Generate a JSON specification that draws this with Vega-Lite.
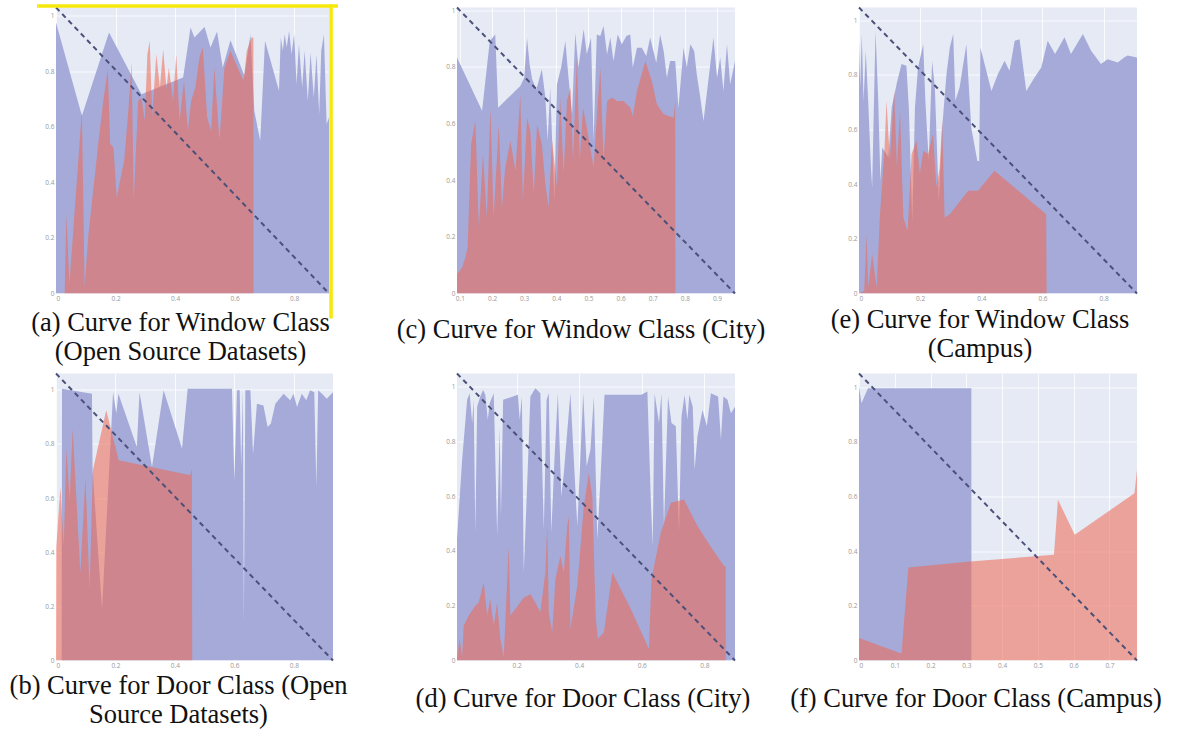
{
"$schema": "https://vega.github.io/schema/vega-lite/v6.json",
"background": "white",
"padding": {"left": 9, "top": 2.5, "right": 0, "bottom": 0},
"bounds": "flush",
"columns": 3,
"spacing": {"row": 80, "column": 124},
"config": {
  "view": {"fill": "#E5EAF5", "stroke": null},
  "axis": {"domain": false, "ticks": false, "tickSize": 0, "grid": true, "gridColor": "#FFFFFF", "gridWidth": 1, "gridOpacity": 0.8, "labelFontSize": 6.5, "labelColor": "#999999", "labelFont": "Open Sans", "title": null, "labelPadding": 2, "labelOverlap": false},
  "title": {"font": "Liberation Serif", "fontSize": 26.5, "fontWeight": "normal", "color": "#111111", "orient": "bottom", "anchor": "middle", "frame": "group", "lineHeight": 29, "baseline": "top"}
},
"datasets": {
  "a_blue": [{"x":0,"y":0.976},{"x":0.087,"y":0.64},{"x":0.178,"y":0.94},{"x":0.287,"y":0.718},{"x":0.427,"y":0.778},{"x":0.452,"y":0.958},{"x":0.465,"y":0.922},{"x":0.499,"y":0.96},{"x":0.519,"y":0.886},{"x":0.541,"y":0.944},{"x":0.56,"y":0.814},{"x":0.586,"y":0.912},{"x":0.633,"y":0.784},{"x":0.653,"y":0.934},{"x":0.666,"y":0.658},{"x":0.686,"y":0.55},{"x":0.702,"y":0.91},{"x":0.749,"y":0.73},{"x":0.755,"y":0.922},{"x":0.762,"y":0.874},{"x":0.768,"y":0.934},{"x":0.775,"y":0.886},{"x":0.783,"y":0.946},{"x":0.791,"y":0.862},{"x":0.8,"y":0.934},{"x":0.808,"y":0.754},{"x":0.816,"y":0.898},{"x":0.827,"y":0.742},{"x":0.835,"y":0.874},{"x":0.846,"y":0.694},{"x":0.855,"y":0.868},{"x":0.866,"y":0.706},{"x":0.875,"y":0.862},{"x":0.884,"y":0.646},{"x":0.891,"y":0.874},{"x":0.9,"y":0.934},{"x":0.909,"y":0.61},{"x":0.917,"y":0.634}],
  "a_red": [{"x":0.029,"y":0},{"x":0.035,"y":0.286},{"x":0.045,"y":0.034},{"x":0.087,"y":0.658},{"x":0.096,"y":0.022},{"x":0.109,"y":0.214},{"x":0.126,"y":0.382},{"x":0.143,"y":0.55},{"x":0.159,"y":0.694},{"x":0.174,"y":0.808},{"x":0.182,"y":0.538},{"x":0.193,"y":0.526},{"x":0.204,"y":0.346},{"x":0.215,"y":0.406},{"x":0.229,"y":0.478},{"x":0.243,"y":0.658},{"x":0.254,"y":0.832},{"x":0.261,"y":0.334},{"x":0.276,"y":0.694},{"x":0.287,"y":0.706},{"x":0.298,"y":0.622},{"x":0.307,"y":0.862},{"x":0.315,"y":0.91},{"x":0.323,"y":0.634},{"x":0.337,"y":0.862},{"x":0.349,"y":0.742},{"x":0.36,"y":0.88},{"x":0.371,"y":0.736},{"x":0.379,"y":0.814},{"x":0.393,"y":0.694},{"x":0.404,"y":0.862},{"x":0.415,"y":0.622},{"x":0.43,"y":0.766},{"x":0.443,"y":0.586},{"x":0.454,"y":0.694},{"x":0.468,"y":0.742},{"x":0.482,"y":0.85},{"x":0.493,"y":0.886},{"x":0.508,"y":0.634},{"x":0.521,"y":0.586},{"x":0.532,"y":0.814},{"x":0.549,"y":0.55},{"x":0.566,"y":0.814},{"x":0.586,"y":0.874},{"x":0.61,"y":0.814},{"x":0.63,"y":0.766},{"x":0.641,"y":0.874},{"x":0.657,"y":0.922},{"x":0.663,"y":0.922},{"x":0.6636,"y":0}],
  "a_frame": [{"x":-0.0638,"y":1.0354,"x2":0.947,"y2":1.0354},{"x":0.924,"y":1.041,"x2":0.924,"y2":-0.09}],
  "c_blue": [{"x":0.091,"y":0.833},{"x":0.169,"y":0.645},{"x":0.193,"y":0.892},{"x":0.21,"y":0.915},{"x":0.219,"y":0.656},{"x":0.288,"y":0.733},{"x":0.3,"y":0.762},{"x":0.309,"y":0.901},{"x":0.317,"y":0.809},{"x":0.325,"y":0.756},{"x":0.338,"y":0.721},{"x":0.355,"y":0.792},{"x":0.366,"y":0.692},{"x":0.373,"y":0.539},{"x":0.381,"y":0.727},{"x":0.394,"y":0.327},{"x":0.402,"y":0.739},{"x":0.415,"y":0.798},{"x":0.428,"y":0.892},{"x":0.438,"y":0.762},{"x":0.449,"y":0.633},{"x":0.459,"y":0.921},{"x":0.469,"y":0.798},{"x":0.485,"y":0.933},{"x":0.495,"y":0.845},{"x":0.508,"y":0.904},{"x":0.516,"y":0.54},{"x":0.526,"y":0.915},{"x":0.537,"y":0.909},{"x":0.547,"y":0.945},{"x":0.558,"y":0.845},{"x":0.568,"y":0.904},{"x":0.578,"y":0.821},{"x":0.591,"y":0.915},{"x":0.604,"y":0.88},{"x":0.618,"y":0.909},{"x":0.63,"y":0.915},{"x":0.638,"y":0.798},{"x":0.651,"y":0.868},{"x":0.666,"y":0.868},{"x":0.68,"y":0.839},{"x":0.692,"y":0.904},{"x":0.711,"y":0.815},{"x":0.723,"y":0.915},{"x":0.734,"y":0.856},{"x":0.744,"y":0.762},{"x":0.754,"y":0.821},{"x":0.77,"y":0.821},{"x":0.78,"y":0.656},{"x":0.796,"y":0.868},{"x":0.806,"y":0.798},{"x":0.817,"y":0.88},{"x":0.829,"y":0.856},{"x":0.837,"y":0.774},{"x":0.848,"y":0.692},{"x":0.858,"y":0.609},{"x":0.868,"y":0.704},{"x":0.879,"y":0.809},{"x":0.889,"y":0.904},{"x":0.9,"y":0.762},{"x":0.91,"y":0.833},{"x":0.92,"y":0.715},{"x":0.931,"y":0.88},{"x":0.941,"y":0.739},{"x":0.956,"y":0.821}],
  "c_red": [{"x":0.091,"y":0.068},{"x":0.107,"y":0.092},{"x":0.117,"y":0.127},{"x":0.124,"y":0.162},{"x":0.135,"y":0.527},{"x":0.148,"y":0.609},{"x":0.159,"y":0.233},{"x":0.172,"y":0.492},{"x":0.184,"y":0.268},{"x":0.195,"y":0.656},{"x":0.205,"y":0.268},{"x":0.221,"y":0.598},{"x":0.231,"y":0.304},{"x":0.241,"y":0.445},{"x":0.257,"y":0.539},{"x":0.273,"y":0.433},{"x":0.288,"y":0.704},{"x":0.296,"y":0.327},{"x":0.309,"y":0.621},{"x":0.319,"y":0.574},{"x":0.33,"y":0.351},{"x":0.34,"y":0.598},{"x":0.355,"y":0.527},{"x":0.366,"y":0.386},{"x":0.376,"y":0.304},{"x":0.387,"y":0.539},{"x":0.402,"y":0.374},{"x":0.412,"y":0.692},{"x":0.423,"y":0.421},{"x":0.433,"y":0.68},{"x":0.444,"y":0.727},{"x":0.452,"y":0.468},{"x":0.464,"y":0.833},{"x":0.473,"y":0.468},{"x":0.483,"y":0.656},{"x":0.495,"y":0.586},{"x":0.516,"y":0.445},{"x":0.526,"y":0.621},{"x":0.537,"y":0.798},{"x":0.547,"y":0.468},{"x":0.558,"y":0.68},{"x":0.573,"y":0.692},{"x":0.589,"y":0.68},{"x":0.609,"y":0.68},{"x":0.63,"y":0.656},{"x":0.638,"y":0.627},{"x":0.651,"y":0.715},{"x":0.677,"y":0.821},{"x":0.697,"y":0.751},{"x":0.713,"y":0.668},{"x":0.734,"y":0.633},{"x":0.765,"y":0.621},{"x":0.77,"y":0.68},{"x":0.7705,"y":0}],
  "e_blue": [{"x":0,"y":0.924},{"x":0.004,"y":0.754},{"x":0.009,"y":0.949},{"x":0.015,"y":0.705},{"x":0.022,"y":0.888},{"x":0.03,"y":0.705},{"x":0.039,"y":0.461},{"x":0.043,"y":0.388},{"x":0.054,"y":0.961},{"x":0.063,"y":0.705},{"x":0.07,"y":0.412},{"x":0.076,"y":0.534},{"x":0.096,"y":0.498},{"x":0.107,"y":0.68},{"x":0.123,"y":0.766},{"x":0.139,"y":0.839},{"x":0.155,"y":0.833},{"x":0.163,"y":0.68},{"x":0.174,"y":0.266},{"x":0.183,"y":0.68},{"x":0.193,"y":0.827},{"x":0.21,"y":0.912},{"x":0.217,"y":0.705},{"x":0.228,"y":0.485},{"x":0.239,"y":0.851},{"x":0.248,"y":0.754},{"x":0.261,"y":0.339},{"x":0.272,"y":0.607},{"x":0.286,"y":0.802},{"x":0.297,"y":0.9},{"x":0.308,"y":0.949},{"x":0.315,"y":0.705},{"x":0.329,"y":0.754},{"x":0.351,"y":0.912},{"x":0.367,"y":0.607},{"x":0.387,"y":0.485},{"x":0.393,"y":0.485},{"x":0.397,"y":0.9},{"x":0.433,"y":0.741},{"x":0.454,"y":0.802},{"x":0.476,"y":0.851},{"x":0.492,"y":0.815},{"x":0.509,"y":0.924},{"x":0.525,"y":0.93},{"x":0.547,"y":0.741},{"x":0.574,"y":0.79},{"x":0.596,"y":0.827},{"x":0.617,"y":0.924},{"x":0.641,"y":0.876},{"x":0.672,"y":0.937},{"x":0.693,"y":0.876},{"x":0.732,"y":0.949},{"x":0.759,"y":0.888},{"x":0.791,"y":0.839},{"x":0.813,"y":0.857},{"x":0.846,"y":0.845},{"x":0.867,"y":0.863},{"x":0.878,"y":0.87},{"x":0.909,"y":0.863}],
  "e_red": [{"x":0.002,"y":0},{"x":0.017,"y":0.01},{"x":0.025,"y":0.217},{"x":0.03,"y":0.022},{"x":0.043,"y":0.144},{"x":0.058,"y":0.022},{"x":0.068,"y":0.278},{"x":0.083,"y":0.522},{"x":0.09,"y":0.705},{"x":0.101,"y":0.485},{"x":0.115,"y":0.741},{"x":0.124,"y":0.461},{"x":0.134,"y":0.668},{"x":0.145,"y":0.278},{"x":0.159,"y":0.229},{"x":0.172,"y":0.51},{"x":0.188,"y":0.559},{"x":0.199,"y":0.437},{"x":0.21,"y":0.522},{"x":0.226,"y":0.51},{"x":0.242,"y":0.583},{"x":0.253,"y":0.388},{"x":0.264,"y":0.461},{"x":0.272,"y":0.632},{"x":0.28,"y":0.278},{"x":0.297,"y":0.29},{"x":0.357,"y":0.376},{"x":0.389,"y":0.376},{"x":0.443,"y":0.449},{"x":0.612,"y":0.29},{"x":0.6135,"y":0}],
  "b_blue": [{"x":0.019,"y":0},{"x":0.0202,"y":1.004},{"x":0.121,"y":0.985},{"x":0.123,"y":0.703},{"x":0.155,"y":0.187},{"x":0.192,"y":0.991},{"x":0.203,"y":0.912},{"x":0.21,"y":0.985},{"x":0.272,"y":0.789},{"x":0.281,"y":0.991},{"x":0.323,"y":0.715},{"x":0.362,"y":0.998},{"x":0.424,"y":0.783},{"x":0.443,"y":1.004},{"x":0.592,"y":1.004},{"x":0.6,"y":0.666},{"x":0.609,"y":0.998},{"x":0.618,"y":0.998},{"x":0.623,"y":0.715},{"x":0.629,"y":0.998},{"x":0.632,"y":0.138},{"x":0.637,"y":0.998},{"x":0.654,"y":0.998},{"x":0.663,"y":0.764},{"x":0.676,"y":0.948},{"x":0.698,"y":0.942},{"x":0.712,"y":0.862},{"x":0.723,"y":0.875},{"x":0.738,"y":0.948},{"x":0.766,"y":0.985},{"x":0.788,"y":0.961},{"x":0.799,"y":0.985},{"x":0.811,"y":0.936},{"x":0.827,"y":0.985},{"x":0.842,"y":0.961},{"x":0.855,"y":0.998},{"x":0.869,"y":0.991},{"x":0.876,"y":0.641},{"x":0.882,"y":0.998},{"x":0.895,"y":0.985},{"x":0.911,"y":0.967},{"x":0.932,"y":0.991}],
  "b_red": [{"x":0,"y":0},{"x":0.001,"y":0.42},{"x":0.015,"y":0.641},{"x":0.026,"y":0.42},{"x":0.035,"y":0.783},{"x":0.046,"y":0.592},{"x":0.056,"y":0.856},{"x":0.082,"y":0.322},{"x":0.099,"y":0.678},{"x":0.113,"y":0.26},{"x":0.124,"y":0.703},{"x":0.169,"y":0.924},{"x":0.211,"y":0.74},{"x":0.452,"y":0.684},{"x":0.457,"y":0.709},{"x":0.4585,"y":0}],
  "d_blue": [{"x":0.0096,"y":0.442},{"x":0.026,"y":0.733},{"x":0.042,"y":0.952},{"x":0.05,"y":0.976},{"x":0.058,"y":0.867},{"x":0.063,"y":0.952},{"x":0.068,"y":0.467},{"x":0.074,"y":0.927},{"x":0.084,"y":0.964},{"x":0.093,"y":0.988},{"x":0.1,"y":0.97},{"x":0.108,"y":0.879},{"x":0.114,"y":0.939},{"x":0.127,"y":0.976},{"x":0.138,"y":0.455},{"x":0.146,"y":0.855},{"x":0.15,"y":0.527},{"x":0.157,"y":0.952},{"x":0.204,"y":0.97},{"x":0.21,"y":0.879},{"x":0.217,"y":0.964},{"x":0.223,"y":0.321},{"x":0.236,"y":0.709},{"x":0.244,"y":0.964},{"x":0.26,"y":0.994},{"x":0.276,"y":0.976},{"x":0.287,"y":0.479},{"x":0.296,"y":0.952},{"x":0.303,"y":0.976},{"x":0.311,"y":0.467},{"x":0.321,"y":0.733},{"x":0.332,"y":0.976},{"x":0.343,"y":0.6},{"x":0.351,"y":0.685},{"x":0.372,"y":0.976},{"x":0.394,"y":0.491},{"x":0.413,"y":0.976},{"x":0.424,"y":0.709},{"x":0.436,"y":0.77},{"x":0.447,"y":0.964},{"x":0.458,"y":0.442},{"x":0.469,"y":0.685},{"x":0.481,"y":0.97},{"x":0.599,"y":0.97},{"x":0.618,"y":0.982},{"x":0.629,"y":0.588},{"x":0.635,"y":0.418},{"x":0.641,"y":0.976},{"x":0.655,"y":0.867},{"x":0.663,"y":0.976},{"x":0.671,"y":0.491},{"x":0.684,"y":0.964},{"x":0.695,"y":0.867},{"x":0.709,"y":0.855},{"x":0.719,"y":0.467},{"x":0.727,"y":0.891},{"x":0.737,"y":0.97},{"x":0.746,"y":0.879},{"x":0.752,"y":0.97},{"x":0.763,"y":0.927},{"x":0.769,"y":0.697},{"x":0.778,"y":0.818},{"x":0.794,"y":0.915},{"x":0.808,"y":0.855},{"x":0.821,"y":0.976},{"x":0.831,"y":0.97},{"x":0.844,"y":0.964},{"x":0.853,"y":0.806},{"x":0.861,"y":0.964},{"x":0.874,"y":0.952},{"x":0.885,"y":0.903},{"x":0.898,"y":0.927}],
  "d_red": [{"x":0.0096,"y":0},{"x":0.018,"y":0.079},{"x":0.026,"y":0.012},{"x":0.031,"y":0.127},{"x":0.047,"y":0.164},{"x":0.054,"y":0.176},{"x":0.068,"y":0.2},{"x":0.079,"y":0.212},{"x":0.095,"y":0.285},{"x":0.106,"y":0.164},{"x":0.116,"y":0.224},{"x":0.127,"y":0.127},{"x":0.138,"y":0.212},{"x":0.148,"y":0.079},{"x":0.159,"y":0.012},{"x":0.175,"y":0.418},{"x":0.18,"y":0.164},{"x":0.196,"y":0.188},{"x":0.223,"y":0.23},{"x":0.244,"y":0.242},{"x":0.26,"y":0.212},{"x":0.276,"y":0.176},{"x":0.292,"y":0.321},{"x":0.298,"y":0.491},{"x":0.303,"y":0.176},{"x":0.314,"y":0.103},{"x":0.324,"y":0.297},{"x":0.34,"y":0.382},{"x":0.351,"y":0.321},{"x":0.362,"y":0.491},{"x":0.367,"y":0.527},{"x":0.372,"y":0.115},{"x":0.394,"y":0.273},{"x":0.415,"y":0.564},{"x":0.431,"y":0.685},{"x":0.442,"y":0.6},{"x":0.453,"y":0.152},{"x":0.46,"y":0.079},{"x":0.479,"y":0.103},{"x":0.506,"y":0.321},{"x":0.565,"y":0.188},{"x":0.623,"y":0.042},{"x":0.631,"y":0.297},{"x":0.661,"y":0.467},{"x":0.693,"y":0.576},{"x":0.735,"y":0.588},{"x":0.778,"y":0.491},{"x":0.826,"y":0.406},{"x":0.863,"y":0.345},{"x":0.868,"y":0.345},{"x":0.8685,"y":0}],
  "f_blue": [{"x":0,"y":1.002},{"x":0.007,"y":0.941},{"x":0.025,"y":0.996},{"x":0.314,"y":0.996},{"x":0.3142,"y":0},{"x":0.777,"y":0}],
  "f_red": [{"x":0,"y":0.082},{"x":0.114,"y":0.027},{"x":0.119,"y":0.027},{"x":0.138,"y":0.34},{"x":0.311,"y":0.362},{"x":0.545,"y":0.387},{"x":0.556,"y":0.588},{"x":0.603,"y":0.46},{"x":0.77,"y":0.612},{"x":0.777,"y":0.698}]
},
"concat": [
    {"width": 273, "height": 286,
     "title": {"text": ["(a) Curve for Window Class", "(Open Source Datasets)"], "offset": -10, "dx": -12},
     "encoding": {
       "x": {"field": "x", "type": "quantitative", "scale": {"domain": [0, 0.917], "nice": false}, "axis": {"values": [0, 0.2, 0.4, 0.6, 0.8], "format": "~g"}},
       "y": {"field": "y", "type": "quantitative", "stack": null, "scale": {"domain": [0, 1.03], "nice": false}, "axis": {"values": [0, 0.2, 0.4, 0.6, 0.8, 1], "format": "~g"}}
     },
     "layer": [
       {"data": {"name": "a_blue"}, "mark": {"type": "area", "color": "#A6AAD9", "opacity": 1, "clip": true}, "encoding": {}},
       {"data": {"name": "a_red"}, "mark": {"type": "area", "color": "#EE6650", "opacity": 0.55, "clip": true}, "encoding": {}},
       {"data": {"values": [{"x": 0, "y": 1.03, "x2": 0.917, "y2": 0}]}, "mark": {"type": "rule", "color": "#4B5079", "strokeDash": [5, 4], "strokeWidth": 2}, "encoding": {"x2": {"field": "x2"}, "y2": {"field": "y2"}}},
       {"data": {"name": "a_frame"}, "mark": {"type": "rule", "color": "#F7E80C", "strokeWidth": 3.5, "clip": false}, "encoding": {"x2": {"field": "x2"}, "y2": {"field": "y2"}}}
     ]},
    {"width": 278, "height": 286,
     "title": {"text": "(c) Curve for Window Class (City)", "offset": 15, "dx": -15},
     "encoding": {
       "x": {"field": "x", "type": "quantitative", "scale": {"domain": [0.091, 0.956], "nice": false, "zero": false}, "axis": {"values": [0.1, 0.2, 0.3, 0.4, 0.5, 0.6, 0.7, 0.8, 0.9], "format": "~g"}},
       "y": {"field": "y", "type": "quantitative", "stack": null, "scale": {"domain": [0, 1.01], "nice": false}, "axis": {"values": [0, 0.2, 0.4, 0.6, 0.8, 1], "format": "~g"}}
     },
     "layer": [
       {"data": {"name": "c_blue"}, "mark": {"type": "area", "color": "#A6AAD9", "opacity": 1, "clip": true}, "encoding": {}},
       {"data": {"name": "c_red"}, "mark": {"type": "area", "color": "#EE6650", "opacity": 0.55, "clip": true}, "encoding": {}},
       {"data": {"values": [{"x": 0.091, "y": 1.01, "x2": 0.956, "y2": 0}]}, "mark": {"type": "rule", "color": "#4B5079", "strokeDash": [5, 4], "strokeWidth": 2}, "encoding": {"x2": {"field": "x2"}, "y2": {"field": "y2"}}}
     ]},
    {"width": 278, "height": 286,
     "title": {"text": ["(e) Curve for Window Class", "(Campus)"], "offset": 5, "dx": -18},
     "encoding": {
       "x": {"field": "x", "type": "quantitative", "scale": {"domain": [0, 0.909], "nice": false}, "axis": {"values": [0, 0.2, 0.4, 0.6, 0.8], "format": "~g"}},
       "y": {"field": "y", "type": "quantitative", "stack": null, "scale": {"domain": [0, 1.046], "nice": false}, "axis": {"values": [0, 0.2, 0.4, 0.6, 0.8, 1], "format": "~g"}}
     },
     "layer": [
       {"data": {"name": "e_blue"}, "mark": {"type": "area", "color": "#A6AAD9", "opacity": 1, "clip": true}, "encoding": {}},
       {"data": {"name": "e_red"}, "mark": {"type": "area", "color": "#EE6650", "opacity": 0.55, "clip": true}, "encoding": {}},
       {"data": {"values": [{"x": 0, "y": 1.046, "x2": 0.909, "y2": 0}]}, "mark": {"type": "rule", "color": "#4B5079", "strokeDash": [5, 4], "strokeWidth": 2}, "encoding": {"x2": {"field": "x2"}, "y2": {"field": "y2"}}}
     ]},
    {"width": 277, "height": 287,
     "title": {"text": ["(b) Curve for Door Class (Open", "Source Datasets)"], "offset": 4, "dx": -16},
     "encoding": {
       "x": {"field": "x", "type": "quantitative", "scale": {"domain": [0, 0.932], "nice": false}, "axis": {"values": [0, 0.2, 0.4, 0.6, 0.8], "format": "~g"}},
       "y": {"field": "y", "type": "quantitative", "stack": null, "scale": {"domain": [0, 1.06], "nice": false}, "axis": {"values": [0, 0.2, 0.4, 0.6, 0.8, 1], "format": "~g"}}
     },
     "layer": [
       {"data": {"name": "b_blue"}, "mark": {"type": "area", "color": "#A6AAD9", "opacity": 1, "clip": true}, "encoding": {}},
       {"data": {"name": "b_red"}, "mark": {"type": "area", "color": "#EE6650", "opacity": 0.55, "clip": true}, "encoding": {}},
       {"data": {"values": [{"x": 0, "y": 1.06, "x2": 0.932, "y2": 0}]}, "mark": {"type": "rule", "color": "#4B5079", "strokeDash": [5, 4], "strokeWidth": 2}, "encoding": {"x2": {"field": "x2"}, "y2": {"field": "y2"}}}
     ]},
    {"width": 278, "height": 287,
     "title": {"text": "(d) Curve for Door Class (City)", "offset": 17, "dx": -13},
     "encoding": {
       "x": {"field": "x", "type": "quantitative", "scale": {"domain": [0.0096, 0.898], "nice": false, "zero": false}, "axis": {"values": [0.2, 0.4, 0.6, 0.8], "format": "~g"}},
       "y": {"field": "y", "type": "quantitative", "stack": null, "scale": {"domain": [0, 1.048], "nice": false}, "axis": {"values": [0, 0.2, 0.4, 0.6, 0.8, 1], "format": "~g"}}
     },
     "layer": [
       {"data": {"name": "d_blue"}, "mark": {"type": "area", "color": "#A6AAD9", "opacity": 1, "clip": true}, "encoding": {}},
       {"data": {"name": "d_red"}, "mark": {"type": "area", "color": "#EE6650", "opacity": 0.55, "clip": true}, "encoding": {}},
       {"data": {"values": [{"x": 0.0096, "y": 1.048, "x2": 0.898, "y2": 0}]}, "mark": {"type": "rule", "color": "#4B5079", "strokeDash": [5, 4], "strokeWidth": 2}, "encoding": {"x2": {"field": "x2"}, "y2": {"field": "y2"}}}
     ]},
    {"width": 278, "height": 287,
     "title": {"text": "(f) Curve for Door Class (Campus)", "offset": 17, "dx": -22},
     "encoding": {
       "x": {"field": "x", "type": "quantitative", "scale": {"domain": [0, 0.777], "nice": false}, "axis": {"values": [0, 0.1, 0.2, 0.3, 0.4, 0.5, 0.6, 0.7], "format": "~g"}},
       "y": {"field": "y", "type": "quantitative", "stack": null, "scale": {"domain": [0, 1.05], "nice": false}, "axis": {"values": [0, 0.2, 0.4, 0.6, 0.8, 1], "format": "~g"}}
     },
     "layer": [
       {"data": {"name": "f_blue"}, "mark": {"type": "area", "color": "#A6AAD9", "opacity": 1, "clip": true}, "encoding": {}},
       {"data": {"name": "f_red"}, "mark": {"type": "area", "color": "#EE6650", "opacity": 0.55, "clip": true}, "encoding": {}},
       {"data": {"values": [{"x": 0, "y": 1.05, "x2": 0.777, "y2": 0}]}, "mark": {"type": "rule", "color": "#4B5079", "strokeDash": [5, 4], "strokeWidth": 2}, "encoding": {"x2": {"field": "x2"}, "y2": {"field": "y2"}}}
     ]}
]
}
